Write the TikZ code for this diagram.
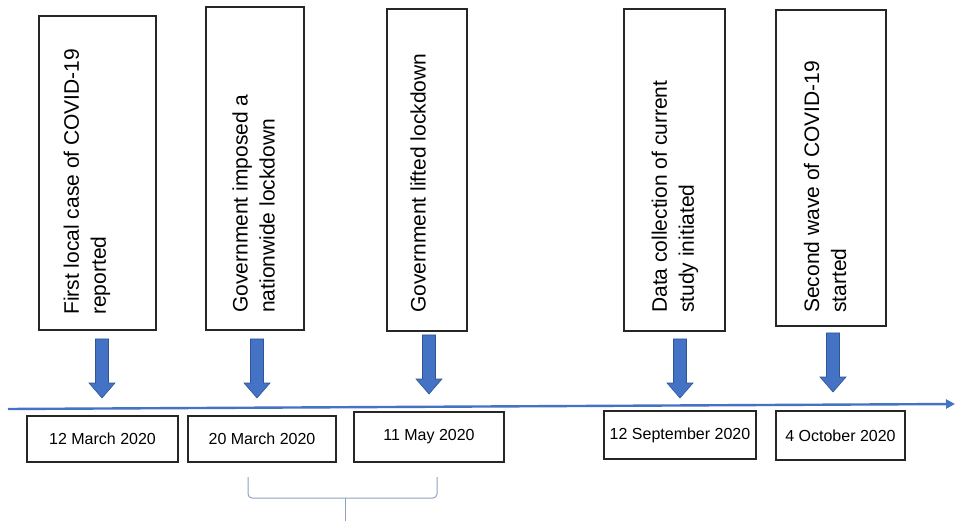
\documentclass[tikz,border=0pt]{standalone}
\usepackage{fontspec}
\setmainfont{Liberation Sans}
\usetikzlibrary{arrows.meta}
\definecolor{arrowblue}{HTML}{4472C4}
\definecolor{arrowedge}{HTML}{2F5597}
\definecolor{bracecol}{HTML}{8FA3C0}
\newcommand{\fatarrow}[3]{\filldraw[arrowblue, draw=arrowedge, line width=0.6pt, line join=miter]
  (#1-6.5,#2) -- (#1+6.5,#2) -- (#1+6.5,#3-15) -- (#1+13,#3-15) -- (#1,#3) -- (#1-13,#3-15) -- (#1-6.5,#3-15) -- cycle;}
\tikzset{
  eventbox/.style={draw=black!85, line width=1.4pt},
  eventtext/.style={rotate=90, anchor=west, align=left, inner sep=0pt, font=\fontsize{21}{27}\selectfont},
  datebox/.style={draw=black!85, line width=1.4pt, inner sep=0pt, font=\fontsize{16}{19}\selectfont},
}
\begin{document}
\begin{tikzpicture}[x=1pt,y=-1pt]
\useasboundingbox[fill=white] (0,0) rectangle (956,521);
% event boxes
\draw[eventbox] (39,16) rectangle (156,330);
\node[eventtext] (t1) at (87,315) {First local case of COVID-19\\reported};
\draw[eventbox] (206,7) rectangle (304,330);
\node[eventtext] (t2) at (253.5,313) {Government imposed a\\nationwide lockdown};
\draw[eventbox] (387,9) rectangle (467,331);
\node[eventtext] (t3) at (418,313) {Government lifted lockdown};
\draw[eventbox] (624,9) rectangle (725,331);
\node[eventtext] (t4) at (675,313) {Data collection of current\\study initiated};
\draw[eventbox] (776,10) rectangle (886,326);
\node[eventtext] (t5) at (825,313) {Second wave of COVID-19\\started};
% arrows
\fatarrow{102}{339}{398}
\fatarrow{257}{339}{398}
\fatarrow{429}{335}{394}
\fatarrow{680}{339}{398}
\fatarrow{833}{333}{392}
% timeline
\coordinate (tl0) at (8,409);
\coordinate (tl1) at (955,404);
\draw[arrowblue, line width=2.4pt, -{Triangle[length=9pt,width=9pt]}] (tl0) -- (tl1);
% date boxes
\node[datebox, minimum width=151pt, minimum height=46pt] (d1) at (102.5,439) {12 March 2020};
\node[datebox, minimum width=148pt, minimum height=46pt] (d2) at (262,439) {20 March 2020};
\node[datebox, minimum width=150pt, minimum height=50pt] (d3) at (429,437) {11 May 2020};
\node[datebox, minimum width=152pt, minimum height=48pt] (d4) at (680,435) {12 September 2020};
\node[datebox, minimum width=129pt, minimum height=49pt] (d5) at (840.5,435.5) {4 October 2020};
% brace
\coordinate (bl) at (248,477);
\coordinate (br) at (437,477);
\coordinate (bm) at (345,521);
\draw[bracecol, line width=1pt, rounded corners=4pt] (bl) -- (248,498) -- (437,498) -- (br);
\draw[bracecol, line width=1pt] (345,498) -- (bm);
\end{tikzpicture}
\end{document}
